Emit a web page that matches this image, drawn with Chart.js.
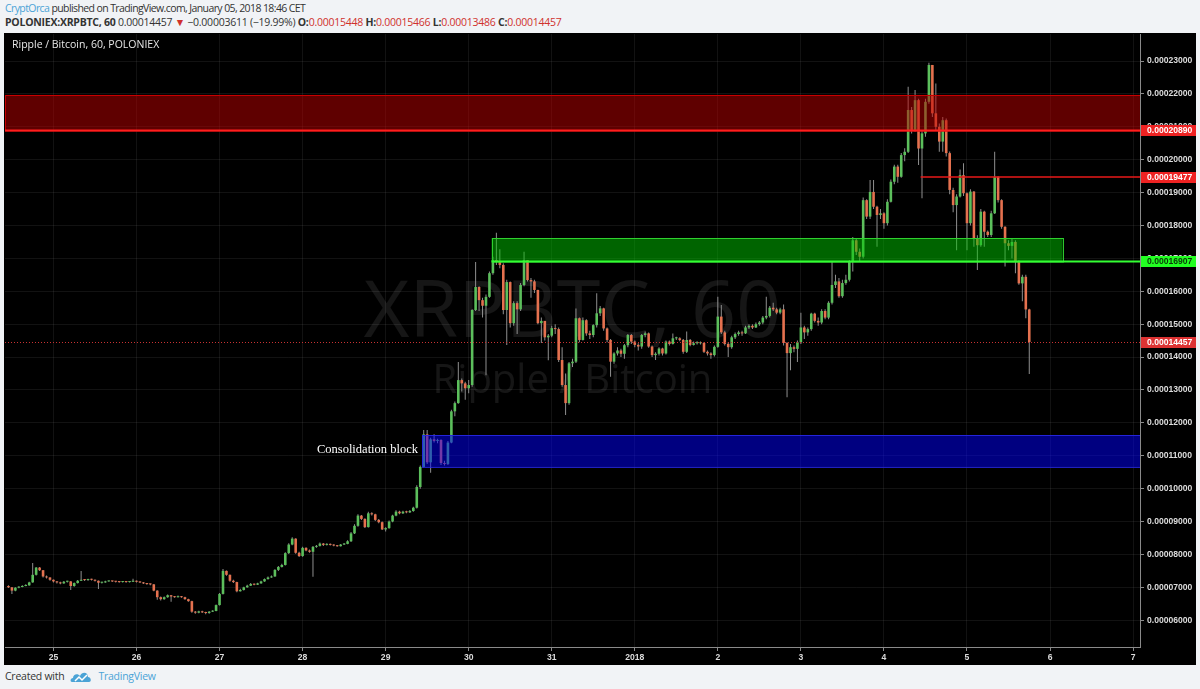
<!DOCTYPE html>
<html>
<head>
<meta charset="utf-8">
<script src="https://cdn.jsdelivr.net/npm/chart.js@4.4.0/dist/chart.umd.min.js"></script>
<style>
  html, body { margin: 0; padding: 0; }
  body { width: 1200px; height: 689px; background: #f1f3f6; position: relative; overflow: hidden;
         font-family: "Open Sans", sans-serif; color: #333; }
  .line { position: absolute; left: 5px; font-size: 10.5px; line-height: 14px; white-space: nowrap; letter-spacing: -0.25px; }
  #hdr1 { top: 1px; letter-spacing: -0.6px; }
  #hdr2 { top: 15px; }
  .author { color: #4ba3d6; }
  .dn { color: #d0312d; }
  #pane { position: absolute; left: 4px; top: 33px; width: 1192px; height: 632px; background: #000; }
  #foot { top: 669px; display: flex; align-items: center; gap: 6px; }
  #foot .tv { color: #4ba3d6; }
</style>
</head>
<body>
<div class="line" id="hdr1"><span class="author">CryptOrca</span> published on TradingView.com, January 05, 2018 18:46 CET</div>
<div class="line" id="hdr2"><b>POLONIEX:XRPBTC, 60</b> 0.00014457 <span class="dn">▼</span> −0.00003611 (−19.99%) <b>O:</b><span class="dn">0.00015448</span> <b>H:</b><span class="dn">0.00015466</span> <b>L:</b><span class="dn">0.00013486</span> <b>C:</b><span class="dn">0.00014457</span></div>
<div id="pane"><canvas id="c" width="1192" height="632"></canvas></div>
<div class="line" id="foot"><span>Created with</span>
  <svg width="22" height="13" viewBox="0 0 22 13"><path d="M2 12 C0 12 0 8 3 8 C3 4 8 3 10 6 C12 1 18 2 18 7 C21 7 22 12 19 12 Z" fill="#4ba3d6"/><path d="M5 11 L9 7 L12 10 L17 5" stroke="#fff" stroke-width="1.5" fill="none"/></svg>
  <span class="tv">TradingView</span></div>
<script>
// hourly candles, prices in satoshi (1e-8 BTC); first candle is Dec 24, 11:00
const startHour = -13;
const firstOpen = 7040;

const closes = [
  // Dec 24
  7000, 6900, 6990, 7010, 7040, 7060, 7150, 7380, 7600, 7520, 7330, 7300, 7230,
  // Dec 25
  7180, 7150, 7120, 7170, 7180, 7040, 7130, 7200, 7230, 7220, 7240, 7230, 7200, 7140, 7150, 7180, 7190, 7180, 7170, 7160, 7170, 7160, 7170, 7200,
  // Dec 26
  7170, 7150, 7120, 7100, 7090, 6900, 6700, 6640, 6700, 6760, 6720, 6700, 6730, 6700, 6640, 6580, 6260, 6230, 6270, 6240, 6220, 6260, 6280, 6460,
  // Dec 27
  6800, 7500, 7380, 7200, 7160, 6880, 6920, 7000, 7050, 7100, 7080, 7120, 7180, 7250, 7300, 7330, 7530, 7620, 7680, 8040, 8300, 8480, 8050, 7950,
  // Dec 28
  8200, 8120, 8080, 8230, 8260, 8330, 8290, 8320, 8290, 8270, 8250, 8300, 8320, 8400, 8640, 8870, 9180, 9080, 8830, 9250, 9220, 9050, 8980, 8760,
  // Dec 29
  8800, 9000, 9180, 9300, 9250, 9300, 9280, 9320, 9420, 10050, 10660, 11650, 10800, 11500, 11450, 11480, 10780, 10750, 11400, 12350, 12600, 13300, 13200, 13050,
  // Dec 30
  13150, 15430, 16130, 15730, 15560, 15830, 16550, 16950, 16900, 16800, 15430, 16280, 15030, 15640, 15450, 16190, 16950, 16340, 16300, 16040, 15030, 15100, 14600, 14650,
  // Dec 31
  14880, 14850, 13910, 13150, 12600, 13810, 13860, 15180, 14520, 15120, 14720, 14670, 14970, 15330, 15480, 14870, 14520, 13860, 14110, 14200, 14100, 14360, 14670, 14470,
  // Jan 1
  14370, 14320, 14670, 14720, 14320, 14060, 14100, 14260, 14110, 14470, 14400, 14570, 14570, 14520, 14160, 14520, 14370, 14420, 14420, 14430, 14160, 14110, 14060, 14310,
  // Jan 2
  15230, 14750, 14400, 14300, 14600, 14700, 14750, 14720, 14900, 14950, 14900, 15000, 15050, 15200, 15250, 15500, 15450, 15350, 15450, 14430, 14120, 14300, 14250, 14450,
  // Jan 3
  14900, 14750, 14850, 15320, 15100, 15050, 15400, 15200, 15650, 16190, 16300, 15850, 16250, 16350, 16900, 17550, 17200, 17050, 18770, 18270, 19020, 18570, 18320, 18370,
  // Jan 4
  18070, 18720, 19330, 19790, 19480, 20140, 20240, 21510, 20900, 21810, 20340, 20800, 21760, 22880, 21410, 21000, 20550, 21200, 20200, 19080, 18620, 18880, 19530, 18980,
  // Jan 5
  18070, 19030, 17610, 17400, 18420, 17810, 17710, 18370, 19480, 18770, 17960, 17460, 17380, 17500, 16900, 16240, 16440, 15448, 14457
];

const highs = [
  7060, 7010, 7000, 7030, 7060, 7090, 7170, 7740, 7620, 7620, 7530, 7360, 7310,
  7240, 7190, 7170, 7190, 7200, 7190, 7150, 7220, 7500, 7250, 7260, 7260, 7240, 7210, 7170, 7200, 7210, 7200, 7190, 7180, 7190, 7180, 7190, 7260,
  7210, 7180, 7160, 7130, 7120, 7100, 6910, 6720, 6720, 6780, 6770, 6740, 6750, 6740, 6710, 6650, 6590, 6280, 6290, 6290, 6260, 6280, 6300, 6480,
  6830, 7560, 7510, 7390, 7230, 7170, 6960, 7020, 7080, 7130, 7120, 7140, 7200, 7270, 7330, 7360, 7550, 7650, 7720, 8070, 8340, 8520, 8490, 8080,
  8230, 8220, 8150, 8260, 8290, 8360, 8350, 8340, 8330, 8310, 8290, 8320, 8350, 8430, 8680, 8920, 9220, 9200, 9100, 9300, 9280, 9240, 9080, 9000,
  8830, 9030, 9210, 9340, 9330, 9330, 9330, 9350, 9450, 10100, 10700, 11780, 11780, 11550, 11650, 11520, 11500, 10850, 11450, 12400, 12650, 13850, 13350, 13250,
  13300, 15450, 16890, 16150, 15800, 15900, 16600, 17050, 17780, 17280, 16850, 16350, 16300, 15700, 15700, 16250, 17200, 16950, 16400, 16350, 16050, 15200, 15100, 14700,
  14950, 15000, 14900, 14300, 13500, 13850, 13950, 15480, 15200, 15200, 15150, 14800, 15000, 15940, 15550, 15500, 14900, 14550, 14150, 14300, 14250, 14400, 14700, 14700,
  14500, 14420, 14700, 14780, 14750, 14350, 14150, 14300, 14280, 14500, 14500, 14720, 14620, 14600, 14550, 14780, 14550, 14470, 14480, 14470, 14450, 14200, 14150, 14350,
  15830, 15580, 14800, 14450, 14650, 14750, 14800, 14800, 14950, 15000, 15000, 15050, 15100, 15250, 15830, 15550, 15650, 15500, 15500, 15600, 14450, 14400, 14350, 14500,
  15350, 14950, 14900, 15350, 15350, 15200, 15450, 15450, 15700, 16900, 16500, 16400, 16350, 16500, 16950, 17650, 17600, 17300, 18850, 18800, 19380, 19380, 18600, 18500,
  18400, 18800, 19400, 19850, 19850, 20200, 20350, 22220, 21600, 22120, 21850, 20900, 21850, 22950, 22880, 22320, 21100, 21300, 21250, 20250, 19150, 18950, 19700, 19890,
  19000, 19100, 19050, 17700, 18500, 18450, 17850, 18450, 20240, 19500, 18800, 17980, 17550, 17600, 17550, 16950, 16500, 16500, 15466
];

const lows = [
  6980, 6800, 6880, 6970, 7000, 7030, 7050, 7140, 7360, 7500, 7300, 7270, 7200,
  7150, 7120, 7090, 7110, 7150, 6920, 7020, 7120, 7190, 7190, 7200, 7210, 7180, 6950, 7120, 7140, 7170, 7160, 7150, 7140, 7150, 7140, 7150, 7160,
  7150, 7130, 7100, 7080, 7060, 6880, 6620, 6600, 6620, 6680, 6560, 6680, 6690, 6680, 6620, 6560, 6230, 6200, 6210, 6220, 6180, 6200, 6250, 6270,
  6450, 6780, 7350, 7170, 7130, 6850, 6870, 6900, 6990, 7040, 7060, 7070, 7110, 7170, 7240, 7290, 7320, 7500, 7600, 7660, 8010, 8280, 8020, 7920,
  7930, 8100, 8050, 7320, 8200, 8240, 8260, 8270, 8270, 8250, 8230, 8240, 8290, 8310, 8380, 8620, 8840, 9050, 8800, 8820, 9180, 9020, 8950, 8740,
  8700, 8780, 8980, 9160, 9220, 9230, 9250, 9260, 9300, 9400, 10000, 10640, 10750, 10480, 11400, 11380, 10720, 10700, 10720, 11380, 12200, 12580, 12950, 12700,
  12900, 13100, 15400, 15400, 15200, 13450, 15800, 16500, 16800, 16700, 15300, 14370, 14900, 14950, 14700, 15400, 16150, 16300, 15800, 15950, 15000, 14430, 14500, 13900,
  14600, 14700, 13850, 13100, 12240, 12550, 13700, 13820, 14450, 14500, 14650, 14550, 14600, 14900, 15250, 14800, 14450, 13400, 13800, 14050, 14000, 13950, 14300, 14400,
  14300, 14200, 14250, 14600, 14280, 14000, 13910, 14050, 14050, 14080, 14350, 14380, 14520, 14480, 14100, 14120, 14330, 14350, 14380, 14380, 14120, 14050, 13950, 14020,
  14280, 14700, 14350, 14000, 14250, 14550, 14650, 14650, 14700, 14850, 14850, 14880, 14950, 15000, 15150, 15200, 15400, 15300, 15300, 14350, 12780, 13600, 14150, 13850,
  14400, 14550, 14650, 14800, 15050, 14950, 15000, 15150, 15150, 15600, 16100, 15800, 15800, 16200, 16300, 16600, 17100, 16900, 17000, 18200, 18200, 18500, 17350, 18200,
  17900, 18000, 18700, 19250, 19300, 19450, 19950, 20200, 20800, 20850, 19840, 18830, 20700, 21700, 21300, 20900, 20240, 20240, 20100, 18950, 18400, 17250, 18850, 18900,
  17250, 18000, 17350, 16650, 17350, 17350, 17650, 17650, 18350, 18700, 17900, 16750, 17250, 17000, 16550, 16200, 15700, 15180, 13486
];

// axis ticks: hours from Dec 25 00:00, prices in satoshi
const dayTicks = [0, 24, 48, 72, 96, 120, 144, 168, 192, 216, 240, 264, 288, 312];
const dayLabels = ['25', '26', '27', '28', '29', '30', '31', '2018', '2', '3', '4', '5', '6', '7'];
const priceTicks = [6000, 7000, 8000, 9000, 10000, 11000, 12000, 13000, 14000, 15000, 16000, 17000, 18000, 19000, 20000, 21000, 22000, 23000];

// drawn zones and levels (price in satoshi, time in hours)
const redZone = [20890, 21970];
const greenZone = [16907, 17620];
const greenZoneHours = [126.6, 291.6];
const blueZone = [10660, 11630];
const blueZoneStart = 106.5;
const resistance = 19477;
const resistanceStart = 250.6;
const lastPrice = 14457;

const hours = closes.map((c, i) => startHour + i);
const opens = closes.map((c, i) => i === 0 ? firstOpen : closes[i - 1]);

const UP = '#5cbf5c';
const DOWN = '#e5714f';
const WICK = '#8f8f8f';
const GRID = 'rgba(255,255,255,0.07)';
const fmt = v => (v / 1e8).toFixed(8);

const overlays = {
    id: 'overlays',
    beforeDatasetsDraw(chart) {
        const { ctx, chartArea: a } = chart;
        const cx = (a.left + a.right) / 2;
        ctx.save();
        ctx.fillStyle = 'rgba(255,255,255,0.085)';
        ctx.textAlign = 'center';
        ctx.textBaseline = 'middle';
        ctx.font = '79px "Open Sans"';
        ctx.fillText('XRPBTC, 60', cx, 281);
        ctx.font = '40px "Open Sans"';
        ctx.fillText('Ripple / Bitcoin', cx, 349);
        ctx.restore();
    },
    afterDatasetsDraw(chart) {
        const { ctx, chartArea: a } = chart;
        const px = v => chart.scales.x.getPixelForValue(v);
        const py = v => chart.scales.y.getPixelForValue(v);
        ctx.save();
        ctx.beginPath();
        ctx.rect(a.left, a.top, a.right - a.left, a.bottom - a.top);
        ctx.clip();

        // red zone
        let t = py(redZone[1]), b = py(redZone[0]);
        ctx.fillStyle = 'rgba(190,0,0,0.5)';
        ctx.fillRect(a.left, t, a.right - a.left, b - t);
        ctx.strokeStyle = '#c80000';
        ctx.lineWidth = 1;
        ctx.strokeRect(a.left + 0.5, Math.round(t) + 0.5, a.right - a.left, b - t);
        ctx.strokeStyle = '#ff1e1e';
        ctx.lineWidth = 2;
        ctx.beginPath(); ctx.moveTo(a.left, b); ctx.lineTo(a.right, b); ctx.stroke();

        // resistance line
        ctx.strokeStyle = '#e81818';
        ctx.lineWidth = 1.5;
        ctx.beginPath(); ctx.moveTo(px(resistanceStart), py(resistance)); ctx.lineTo(a.right, py(resistance)); ctx.stroke();

        // green zone
        t = py(greenZone[1]); b = py(greenZone[0]);
        const gl = px(greenZoneHours[0]), gr = px(greenZoneHours[1]);
        ctx.fillStyle = 'rgba(0,200,0,0.5)';
        ctx.fillRect(gl, t, gr - gl, b - t);
        ctx.strokeStyle = '#2fd02f';
        ctx.lineWidth = 1;
        ctx.strokeRect(Math.round(gl) + 0.5, Math.round(t) + 0.5, gr - gl, b - t);
        ctx.strokeStyle = '#33ff33';
        ctx.lineWidth = 2;
        ctx.beginPath(); ctx.moveTo(gl, b); ctx.lineTo(a.right, b); ctx.stroke();

        // blue zone
        t = py(blueZone[1]); b = py(blueZone[0]);
        const bl = px(blueZoneStart);
        ctx.fillStyle = 'rgba(0,0,255,0.5)';
        ctx.fillRect(bl, t, a.right - bl, b - t);
        ctx.strokeStyle = 'rgba(40,40,230,0.9)';
        ctx.lineWidth = 1;
        ctx.strokeRect(Math.round(bl) + 0.5, Math.round(t) + 0.5, a.right - bl, b - t);

        // last price
        ctx.strokeStyle = '#c83232';
        ctx.lineWidth = 1;
        ctx.setLineDash([1, 2]);
        const ly = Math.round(py(lastPrice)) + 0.5;
        ctx.beginPath(); ctx.moveTo(a.left, ly); ctx.lineTo(a.right, ly); ctx.stroke();
        ctx.setLineDash([]);

        // annotation
        ctx.fillStyle = '#ffffff';
        ctx.font = '12.5px "Liberation Serif"';
        ctx.textAlign = 'right';
        ctx.textBaseline = 'middle';
        ctx.fillText('Consolidation block', bl - 4, py((blueZone[0] + blueZone[1]) / 2) - 1);
        ctx.restore();
    },
    afterDraw(chart) {
        const { ctx, chartArea: a, width } = chart;
        const py = v => chart.scales.y.getPixelForValue(v);
        ctx.save();
        ctx.fillStyle = '#e6e6e6';
        ctx.font = '10.5px "Open Sans"';
        ctx.textBaseline = 'middle';
        ctx.textAlign = 'left';
        ctx.fillText('Ripple / Bitcoin, 60, POLONIEX', 8, 12);

        const tags = [
            [redZone[0], '#ee2222', '#ffffff'],
            [resistance, '#ee2222', '#ffffff'],
            [greenZone[0], '#22ff22', '#0a3a0a'],
            [lastPrice, '#dd3333', '#ffffff'],
        ];
        ctx.font = 'bold 8.6px "Liberation Sans"';
        tags.forEach(([v, bg, fg]) => {
            const y = py(v);
            ctx.fillStyle = bg;
            ctx.fillRect(a.right + 1, Math.round(y) - 5, width - a.right - 1, 11);
            ctx.fillStyle = fg;
            ctx.fillText(fmt(v), a.right + 7, y + 0.5);
        });
        ctx.restore();
    }
};

new Chart(document.getElementById('c'), {
    type: 'bar',
    data: {
        datasets: [
            {
                label: 'body',
                data: hours.map((h, i) => ({ x: h, y: [opens[i], closes[i]] })),
                backgroundColor: closes.map((c, i) => c >= opens[i] ? UP : DOWN),
                barThickness: 2.6,
                minBarLength: 1,
                grouped: false,
                inflateAmount: 0,
                order: 1,
            },
            {
                label: 'wick',
                data: hours.map((h, i) => ({ x: h, y: [lows[i], highs[i]] })),
                backgroundColor: WICK,
                barThickness: 1,
                grouped: false,
                inflateAmount: 0,
                order: 2,
            },
        ],
    },
    options: {
        responsive: false,
        animation: false,
        devicePixelRatio: 1,
        layout: { padding: { left: 1, top: 1, right: 0, bottom: 0 } },
        plugins: { legend: { display: false }, tooltip: { enabled: false } },
        scales: {
            x: {
                type: 'linear',
                min: -14,
                max: 314,
                offset: false,
                afterBuildTicks: s => { s.ticks = dayTicks.map(v => ({ value: v })); },
                afterFit: s => { s.height = 18; s.paddingLeft = 0; s.paddingRight = 0; },
                ticks: {
                    callback: (v, i) => dayLabels[i],
                    color: '#dcdcdc',
                    font: { family: 'Liberation Sans', size: 8.6, weight: 'bold' },
                    maxRotation: 0,
                    autoSkip: false,
                    padding: 1,
                },
                grid: { color: GRID, tickColor: '#8a8a8a', tickLength: 4, offset: false },
                border: { color: '#8a8a8a' },
            },
            y: {
                position: 'right',
                min: 5186,
                max: 23821,
                afterBuildTicks: s => { s.ticks = priceTicks.map(v => ({ value: v })); },
                afterFit: s => { s.width = 56; s.paddingTop = 0; s.paddingBottom = 0; },
                ticks: {
                    callback: v => fmt(v),
                    color: '#dcdcdc',
                    font: { family: 'Liberation Sans', size: 8.6, weight: 'bold' },
                    padding: 3,
                },
                grid: { color: GRID, tickColor: '#8a8a8a', tickLength: 4 },
                border: { color: '#8a8a8a' },
            },
        },
    },
    plugins: [overlays],
});
</script>
</body>
</html>
